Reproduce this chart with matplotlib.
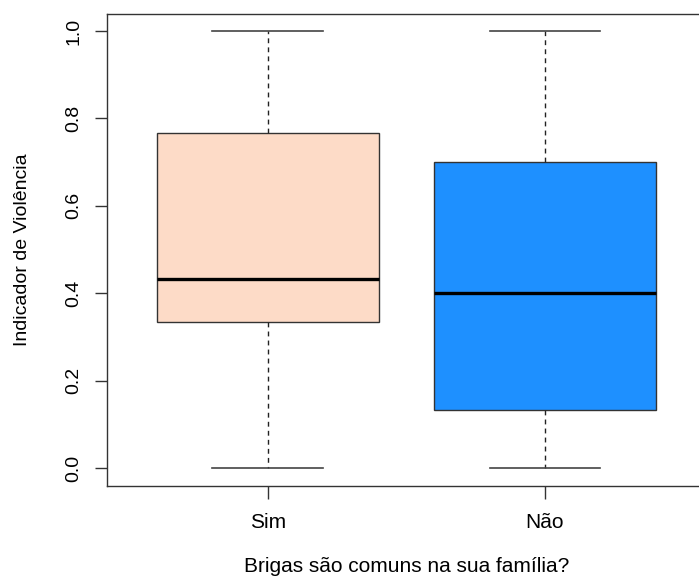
import matplotlib
matplotlib.use("Agg")
import matplotlib.pyplot as plt

plt.rcParams['font.family'] = ['Liberation Sans', 'DejaVu Sans']

groups = ["Sim", "Não"]
q1 = [0.333, 0.133]
medians = [0.433, 0.400]
q3 = [0.767, 0.700]
whislo = [0.0, 0.0]
whishi = [1.0, 1.0]
colors = ["#FDDBC7", "#1E90FF"]

stats = [dict(label=g, q1=a, med=m, q3=b, whislo=lo, whishi=hi, fliers=[])
         for g, a, m, b, lo, hi in zip(groups, q1, medians, q3, whislo, whishi)]

fig = plt.figure(figsize=(6.99, 5.77), dpi=100)
ax = fig.add_axes([107 / 699, 91.5 / 577, 598.7 / 699, 472 / 577])

bp = ax.bxp(stats, positions=[1, 2], widths=0.8, patch_artist=True,
            showfliers=False,
            boxprops=dict(edgecolor="#333333", linewidth=1.0),
            whiskerprops=dict(color="#222222", linestyle=(0, (3.5, 3)), linewidth=1.0),
            capprops=dict(color="#444444", linewidth=1.2),
            medianprops=dict(color="black", linewidth=2.4),
            capwidths=0.4)
for patch, c in zip(bp["boxes"], colors):
    patch.set_facecolor(c)

ax.set_xlim(0.42, 2.58)
ax.set_ylim(-0.04, 1.04)
ax.set_yticks([0.0, 0.2, 0.4, 0.6, 0.8, 1.0])
ax.set_yticklabels(["0.0", "0.2", "0.4", "0.6", "0.8", "1.0"], rotation=90, va="center")
ax.set_xticks([1, 2])
ax.set_xticklabels(groups)
ax.tick_params(axis="both", length=9, width=1.0, color="#333333", pad=9)
ax.tick_params(axis="x", labelsize=15, pad=11)
ax.tick_params(axis="y", labelsize=14)
for s in ax.spines.values():
    s.set_color("#333333")
    s.set_linewidth(1.0)

ax.set_ylabel("Indicador de Violência", fontsize=14)
ax.set_xlabel("Brigas são comuns na sua família?", fontsize=15)
ax.yaxis.set_label_coords(-0.127, 0.5)
ax.xaxis.set_label_coords(0.5, -0.151)

fig.savefig("out.png", dpi=100)
